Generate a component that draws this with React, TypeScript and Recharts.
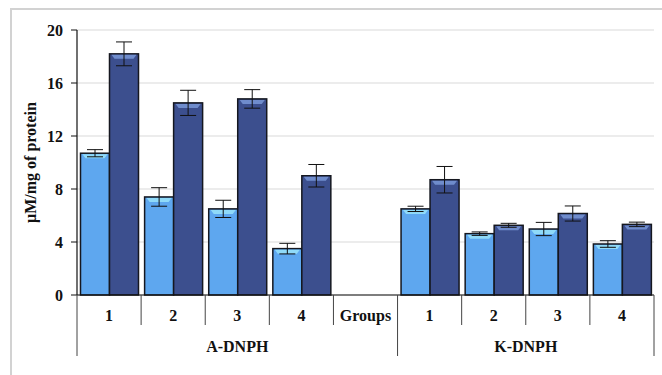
import { BarChart, Bar, XAxis, YAxis, CartesianGrid, ErrorBar } from 'recharts';

const CATEGORIES = ['1', '2', '3', '4', 'Groups', '1', '2', '3', '4'];
const CONTROL = [10.7, 7.4, 6.5, 3.5, null, 6.5, 4.63, 4.98, 3.85];
const CONTROL_ERR = [0.27, 0.7, 0.65, 0.4, null, 0.2, 0.13, 0.5, 0.25];
const TREATED = [18.2, 14.5, 14.8, 9.0, null, 8.7, 5.26, 6.15, 5.33];
const TREATED_ERR = [0.9, 0.95, 0.7, 0.85, null, 1.0, 0.15, 0.57, 0.17];
const Y_TICKS = [0, 4, 8, 12, 16, 20];
const GROUP_LABELS = ['A-DNPH', 'K-DNPH'];
const GROUP_START = [0, 5];
const GROUP_SPAN = [5, 4];

const W = 662;
const H = 375;
const LEFT = 77;
const RIGHT = 654;
const STEP = (RIGHT - LEFT) / CATEGORIES.length;
const FONT = '"Liberation Serif", "Times New Roman", serif';

const data = CATEGORIES.map((name, i) => ({
  key: `${i}`,
  name,
  control: CONTROL[i],
  controlErr: CONTROL_ERR[i],
  treated: TREATED[i],
  treatedErr: TREATED_ERR[i],
}));

function bevelBar(body: string, top: string) {
  return (props: any) => {
    const { x, y, width, height } = props;
    if (!height || height <= 0 || isNaN(y)) return <g />;
    const inset = 2;
    const strip = Math.min(5, height / 3);
    return (
      <g>
        <rect x={x} y={y} width={width} height={height} fill={body} stroke="#15171f" strokeWidth={1.5} />
        <polygon
          points={`${x + inset},${y + 1} ${x + width - inset},${y + 1} ${x + width - inset - 3},${y + strip} ${x + inset + 3},${y + strip}`}
          fill={top}
        />
      </g>
    );
  };
}

function XTick(props: any) {
  const { x, y, payload, index } = props;
  const half = STEP / 2;
  const left = x - half;
  const gi = GROUP_START.indexOf(index);
  return (
    <g>
      <line x1={left} x2={left} y1={y} y2={gi >= 0 ? y + 61 : y + 30} stroke="#444" strokeWidth={1} />
      {index === CATEGORIES.length - 1 && (
        <line x1={x + half} x2={x + half} y1={y} y2={y + 61} stroke="#444" strokeWidth={1} />
      )}
      <text x={x} y={y + 26} textAnchor="middle" fontFamily={FONT} fontWeight="bold" fontSize={16} fill="#111">
        {payload.value}
      </text>
      {gi >= 0 && (
        <text
          x={left + (STEP * GROUP_SPAN[gi]) / 2}
          y={y + 57}
          textAnchor="middle"
          fontFamily={FONT}
          fontWeight="bold"
          fontSize={16}
          fill="#111"
        >
          {GROUP_LABELS[gi]}
        </text>
      )}
    </g>
  );
}

export default function App() {
  return (
    <div style={{ position: 'absolute', left: 0, top: 0, width: W, height: H, background: '#fff' }}>
      <div
        style={{
          position: 'absolute',
          left: 10,
          top: 8,
          width: W - 10,
          height: H - 8,
          borderTop: '2px solid #d2d2d2',
          borderLeft: '2px solid #d2d2d2',
        }}
      />
      <BarChart
        width={W}
        height={H}
        data={data}
        margin={{ top: 30, right: W - RIGHT, left: 0, bottom: 0 }}
        barCategoryGap={3.5}
        barGap={0}
      >
        <CartesianGrid vertical={false} stroke="#dadada" strokeWidth={1.2} />
        <XAxis
          dataKey="key"
          height={80}
          interval={0}
          tickLine={false}
          tickSize={0}
          tickMargin={0}
          axisLine={{ stroke: '#111', strokeWidth: 1.2 }}
          tick={(p: any) => <XTick {...p} payload={{ ...p.payload, value: CATEGORIES[p.index] }} />}
        />
        <YAxis
          width={LEFT}
          domain={[0, 20]}
          ticks={Y_TICKS}
          interval={0}
          tickSize={6}
          tickMargin={8}
          axisLine={{ stroke: '#111', strokeWidth: 1.2 }}
          tickLine={{ stroke: '#111' }}
          tick={{ fontFamily: FONT, fontWeight: 'bold', fontSize: 16, fill: '#111' }}
          label={({ viewBox }: any) => (
            <text
              x={30}
              y={viewBox.y + viewBox.height / 2}
              transform={`rotate(-90, 30, ${viewBox.y + viewBox.height / 2})`}
              textAnchor="middle"
              dominantBaseline="central"
              fontFamily={FONT}
              fontWeight="bold"
              fontSize={16}
              fill="#111"
            >
              μM/mg of protein
            </text>
          )}
        />
        <Bar dataKey="control" isAnimationActive={false} shape={bevelBar('#5ea7ef', '#8fdaf9')}>
          <ErrorBar dataKey="controlErr" width={8} stroke="#111" strokeWidth={1} />
        </Bar>
        <Bar dataKey="treated" isAnimationActive={false} shape={bevelBar('#3c4f8e', '#6f8ccc')}>
          <ErrorBar dataKey="treatedErr" width={8} stroke="#111" strokeWidth={1} />
        </Bar>
      </BarChart>
    </div>
  );
}
